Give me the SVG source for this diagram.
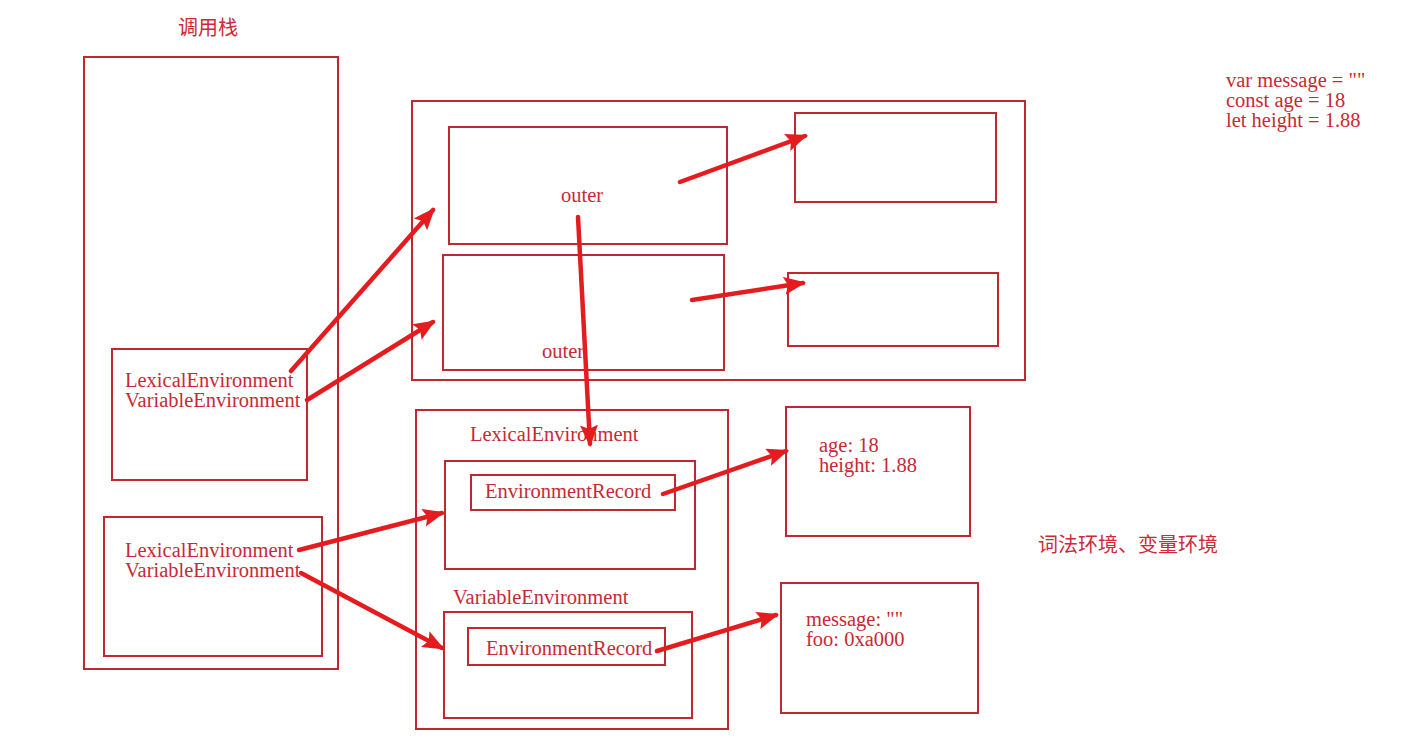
<svg xmlns="http://www.w3.org/2000/svg" width="1407" height="748" viewBox="0 0 1407 748">
<style>
.box{fill:none;stroke:#c0272f;stroke-width:2}
.t{font-family:"Liberation Serif",serif;font-size:20.5px;fill:#c62a36}
.cn{font-family:"Noto Sans CJK SC",sans-serif;font-size:20px;fill:#d0283a}
.arr{stroke:#e41c1f;stroke-width:4.5;stroke-linecap:round;fill:none;marker-end:url(#ah)}
</style>
<defs>
<marker id="ah" markerUnits="userSpaceOnUse" markerWidth="24" markerHeight="20" refX="19" refY="9" orient="auto">
<path d="M0,0 L22,9 L0,18 L4,9 Z" fill="#e41c1f"/>
</marker>
</defs>
<rect width="1407" height="748" fill="#ffffff"/>
<g id="callstack">
<text class="cn" x="208" y="35" text-anchor="middle">调用栈</text>
<rect class="box" x="84" y="57" width="254" height="612"/>
</g>
<g id="ctx1">
<rect class="box" x="112" y="349" width="195" height="131"/>
<text class="t" x="125" y="387">LexicalEnvironment</text>
<text class="t" x="125" y="407">VariableEnvironment</text>
</g>
<g id="ctx2">
<rect class="box" x="104" y="517" width="218" height="139"/>
<text class="t" x="125" y="557">LexicalEnvironment</text>
<text class="t" x="125" y="577">VariableEnvironment</text>
</g>
<g id="globalEnv">
<rect class="box" x="412" y="101" width="613" height="279"/>
</g>
<g id="envA">
<rect class="box" x="449" y="127" width="278" height="117"/>
<text class="t" x="582" y="202" text-anchor="middle">outer</text>
</g>
<g id="envB">
<rect class="box" x="443" y="255" width="281" height="115"/>
<text class="t" x="542" y="358">outer</text>
</g>
<g id="recC">
<rect class="box" x="795" y="113" width="201" height="89"/>
</g>
<g id="recD">
<rect class="box" x="788" y="273" width="210" height="73"/>
</g>
<g id="fooEnv">
<rect class="box" x="416" y="410" width="312" height="319"/>
<text class="t" x="470" y="441">LexicalEnvironment</text>
<text class="t" x="453" y="604">VariableEnvironment</text>
</g>
<g id="fooLE">
<rect class="box" x="445" y="461" width="250" height="108"/>
<rect class="box" x="471" y="475" width="204" height="35"/>
<text class="t" x="485" y="498">EnvironmentRecord</text>
</g>
<g id="fooVE">
<rect class="box" x="444" y="612" width="248" height="106"/>
<rect class="box" x="468" y="628" width="197" height="37"/>
<text class="t" x="486" y="655">EnvironmentRecord</text>
</g>
<g id="recE">
<rect class="box" x="786" y="407" width="184" height="129"/>
<text class="t" x="819" y="452">age: 18</text>
<text class="t" x="819" y="472">height: 1.88</text>
</g>
<g id="recF">
<rect class="box" x="781" y="583" width="197" height="130"/>
<text class="t" x="806" y="626">message: ""</text>
<text class="t" x="806" y="646">foo: 0xa000</text>
</g>
<g id="code">
<text class="t" x="1226" y="87">var message = ""</text>
<text class="t" x="1226" y="107">const age = 18</text>
<text class="t" x="1226" y="127">let height = 1.88</text>
</g>
<g id="caption">
<text class="cn" x="1038" y="552">词法环境、变量环境</text>
</g>
<g id="connectors">
<line class="arr" x1="291" y1="371" x2="433" y2="210"/>
<line class="arr" x1="307" y1="400" x2="433" y2="322"/>
<line class="arr" x1="680" y1="182" x2="805" y2="136"/>
<line class="arr" x1="692" y1="300" x2="803" y2="283"/>
<line class="arr" x1="578" y1="217" x2="590" y2="444"/>
<line class="arr" x1="299" y1="550" x2="442" y2="513"/>
<line class="arr" x1="301" y1="573" x2="442" y2="648"/>
<line class="arr" x1="663" y1="494" x2="786" y2="451"/>
<line class="arr" x1="657" y1="651" x2="776" y2="615"/>
</g>
</svg>
